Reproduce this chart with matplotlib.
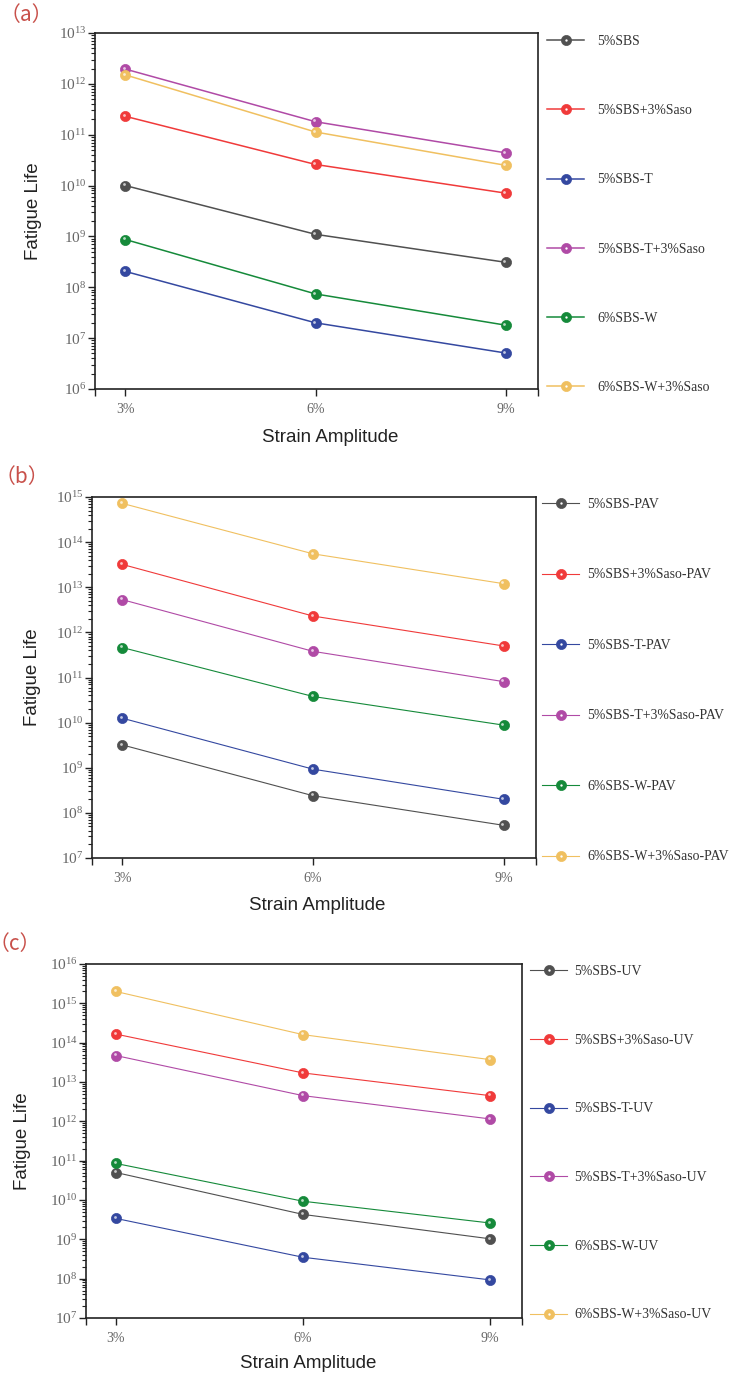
import matplotlib
matplotlib.use('Agg')
import matplotlib.pyplot as plt
import matplotlib.ticker as mticker
from matplotlib.legend_handler import HandlerTuple
from matplotlib.transforms import offset_copy
import numpy as np

plt.rcParams['mathtext.fontset'] = 'custom'
plt.rcParams['mathtext.rm'] = 'Liberation Serif'
plt.rcParams['mathtext.it'] = 'Liberation Serif:italic'
plt.rcParams['font.family'] = ['Liberation Sans', 'DejaVu Sans']

strain = ['3%', '6%', '9%']

# panel (a) - unaged
names_a = ['5%SBS', '5%SBS+3%Saso', '5%SBS-T', '5%SBS-T+3%Saso', '6%SBS-W', '6%SBS-W+3%Saso']
sbs_a = [1.0e10, 1.1e9, 3.1e8]
sbs_saso_a = [2.3e11, 2.6e10, 7.1e9]
sbs_t_a = [2.05e8, 2.0e7, 5.1e6]
sbs_t_saso_a = [1.95e12, 1.8e11, 4.4e10]
sbs_w_a = [8.7e8, 7.4e7, 1.8e7]
sbs_w_saso_a = [1.5e12, 1.13e11, 2.5e10]

# panel (b) - PAV aged
names_b = ['5%SBS-PAV', '5%SBS+3%Saso-PAV', '5%SBS-T-PAV', '5%SBS-T+3%Saso-PAV', '6%SBS-W-PAV', '6%SBS-W+3%Saso-PAV']
sbs_b = [3.2e9, 2.4e8, 5.3e7]
sbs_saso_b = [3.2e13, 2.3e12, 5.0e11]
sbs_t_b = [1.25e10, 9.3e8, 2.0e8]
sbs_t_saso_b = [5.3e12, 3.8e11, 8.1e10]
sbs_w_b = [4.6e11, 3.8e10, 8.8e9]
sbs_w_saso_b = [7.2e14, 5.5e13, 1.2e13]

# panel (c) - UV aged
names_c = ['5%SBS-UV', '5%SBS+3%Saso-UV', '5%SBS-T-UV', '5%SBS-T+3%Saso-UV', '6%SBS-W-UV', '6%SBS-W+3%Saso-UV']
sbs_c = [5.0e10, 4.3e9, 1.03e9]
sbs_saso_c = [1.65e14, 1.7e13, 4.5e12]
sbs_t_c = [3.4e9, 3.5e8, 9.3e7]
sbs_t_saso_c = [4.7e13, 4.5e12, 1.15e12]
sbs_w_c = [8.5e10, 9.3e9, 2.6e9]
sbs_w_saso_c = [2.0e15, 1.6e14, 3.7e13]

colors = ['#505050', '#f03a3a', '#3448a0', '#b04aa6', '#158a3a', '#f0c060']

fig = plt.figure(figsize=(7.31, 13.77), dpi=100)
W, H = 731, 1377

panels = [
    dict(tag='（a）', tag_xy=(26, 15), box=(95, 33, 538, 389), ylim=(1e6, 1e13), lw=1.1,
         series=[sbs_a, sbs_saso_a, sbs_t_a, sbs_t_saso_a, sbs_w_a, sbs_w_saso_a], names=names_a,
         leg_xy=(547, 35), leg_sp=4.09, leg_pad=0.95, ylab_x=33, xlab=(330, 437)),
    dict(tag='（b）', tag_xy=(22, 477), box=(92, 497, 536, 858), ylim=(1e7, 1e15), lw=0.8,
         series=[sbs_b, sbs_saso_b, sbs_t_b, sbs_t_saso_b, sbs_w_b, sbs_w_saso_b], names=names_b,
         leg_xy=(542, 498), leg_sp=4.18, leg_pad=0.6, ylab_x=33, xlab=(317, 905)),
    dict(tag='（c）', tag_xy=(15, 944), box=(86, 964, 522, 1318), ylim=(1e7, 1e16), lw=0.8,
         series=[sbs_c, sbs_saso_c, sbs_t_c, sbs_t_saso_c, sbs_w_c, sbs_w_saso_c], names=names_c,
         leg_xy=(530, 965), leg_sp=4.05, leg_pad=0.5, ylab_x=23, xlab=(308, 1364)),
]

x = np.arange(len(strain))

for p in panels:
    l, t, r, b = p['box']
    ax = fig.add_axes([l / W, 1 - b / H, (r - l) / W, (b - t) / H])
    handles = []
    for vals, c, name in zip(p['series'], colors, p['names']):
        ln, = ax.plot(x, vals, '-o', color=c, lw=p['lw'], ms=7.3, mec=c, mew=0.5, label=name, zorder=3)
        hl_tr = offset_copy(ax.transData, fig=fig, x=-0.9, y=0.9, units='points')
        ax.plot(x, vals, 'o', color='white', ms=2.0, mew=0, alpha=0.7, transform=hl_tr, zorder=4)
        dot, = ax.plot([], [], 'o', color='white', ms=1.7, mew=0)
        handles.append((ln, dot))
    ax.set_yscale('log')
    ax.set_ylim(*p['ylim'])
    ax.set_xlim(-0.16, 2.17)
    ax.set_xticks(x)
    ax.set_xticklabels(strain)
    ax.set_xticks([-0.16, 2.17], minor=True)
    ax.yaxis.set_major_locator(mticker.LogLocator(base=10, numticks=20))
    ax.yaxis.set_minor_locator(mticker.LogLocator(base=10, subs=np.arange(2, 10), numticks=20))
    ax.yaxis.set_minor_formatter(mticker.NullFormatter())
    ax.tick_params(axis='both', which='major', direction='out', length=5, width=1.0, color='#222222',
                   labelcolor='#666666', labelfontfamily='Liberation Serif')
    ax.tick_params(axis='y', which='major', labelsize=11, pad=1)
    ax.tick_params(axis='x', which='major', labelsize=10, pad=5)
    ax.tick_params(axis='y', which='minor', direction='out', length=3, width=0.8, color='#222222')
    ax.tick_params(axis='x', which='minor', direction='out', length=5, width=1.0, color='#222222')
    for s in ax.spines.values():
        s.set_linewidth(1.2)
        s.set_color('#222222')
    ax.set_xlabel('Strain Amplitude', fontsize=13.5, color='#222222', va='center')
    ax.xaxis.set_label_coords((p['xlab'][0] - l) / (r - l), -(p['xlab'][1] - b) / (b - t))
    ax.set_ylabel('Fatigue Life', fontsize=13.5, color='#222222', va='center', ha='center')
    ax.yaxis.set_label_coords((p['ylab_x'] - l) / (r - l), 0.5)

    ax.legend(handles, p['names'], handler_map={tuple: HandlerTuple(ndivide=1)},
              loc='upper left', bbox_to_anchor=(p['leg_xy'][0] / W, 1 - p['leg_xy'][1] / H),
              bbox_transform=fig.transFigure, frameon=False, borderpad=0, borderaxespad=0,
              labelspacing=p['leg_sp'], handlelength=2.7, handletextpad=p['leg_pad'],
              prop={'family': 'Liberation Serif', 'size': 9.9}, labelcolor='#333333')

    fig.text(p['tag_xy'][0] / W, 1 - p['tag_xy'][1] / H, p['tag'], fontsize=15, color='#c8504a',
             family=['Noto Sans CJK SC', 'DejaVu Sans'], va='center', ha='center')

fig.savefig('out.png', dpi=100)
